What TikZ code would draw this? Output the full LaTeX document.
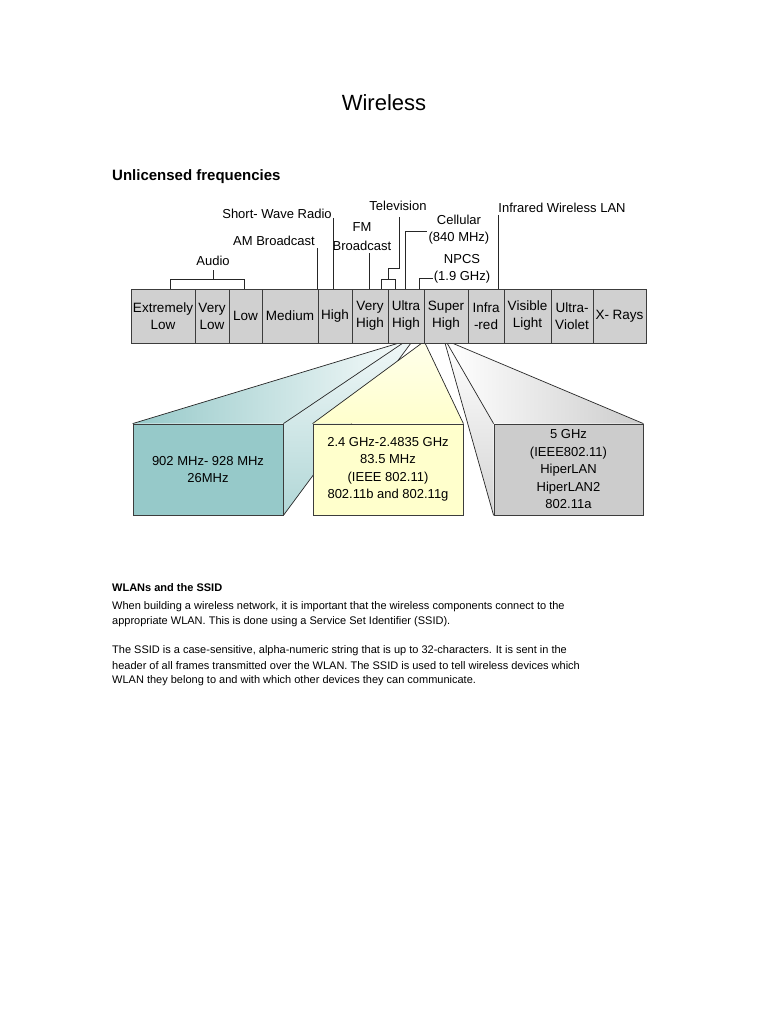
\documentclass[tikz,border=0pt]{standalone}
\usepackage{fontspec}
\setmainfont{Liberation Sans}
\usetikzlibrary{backgrounds}
\definecolor{ismteal}{RGB}{150,201,201}
\definecolor{ismyellow}{RGB}{255,255,204}
\definecolor{uniigray}{RGB}{204,204,204}
\definecolor{bandgray}{RGB}{208,208,208}
\definecolor{edgegray}{RGB}{60,60,60}
\tikzset{
  band/.style ={rectangle, draw=edgegray, fill=bandgray, line width=0.8pt,
                minimum height=54pt, inner sep=0pt, align=center,
                font=\fontsize{13.5}{17}\selectfont},
  tick/.style ={draw=black!85, line width=0.7pt},
  lbl/.style  ={inner sep=0pt, align=center, font=\fontsize{13}{17}\selectfont},
  face/.style ={rectangle, draw=edgegray, line width=0.8pt, minimum width=150pt,
                minimum height=91pt, inner sep=0pt, align=center,
                font=\fontsize{13}{17.5}\selectfont},
  funnel/.style={draw=black!85, line width=0.7pt},
  bodytxt/.style={anchor=west, inner sep=0pt, font=\fontsize{11}{13}\selectfont},
}

\begin{document}
\begin{tikzpicture}[x=1pt, y=-1pt]
    \useasboundingbox (0,0) rectangle (768,1024);
    % headings
    \node[font=\fontsize{22}{26}\selectfont] (title) at (384,103) {Wireless};
    \node[anchor=west, inner sep=0pt, font=\fontsize{15}{17}\selectfont\bfseries] (unlic) at (112,177) {Unlicensed frequencies};
    % spectrum bands
    \node[band, minimum width=64pt] (elf) at (163,316)   {Extremely\\Low};
    \node[band, minimum width=34pt] (vlf) at (212,316)   {Very\\Low};
    \node[band, minimum width=33pt] (lf)  at (245.5,316) {Low};
    \node[band, minimum width=56pt] (mf)  at (290,316)   {Medium};
    \node[band, minimum width=34pt] (hf)  at (335,316)   {High};
    \node[band, minimum width=36pt] (vhf) at (370,316)   {Very\\High};
    \node[band, minimum width=36pt] (uhf) at (406,316)   {Ultra\\High};
    \node[band, minimum width=44pt] (shf) at (446,316)   {Super\\High};
    \node[band, minimum width=36pt] (ir)  at (486,316)   {Infra\\-red};
    \node[band, minimum width=47pt] (vis) at (527.5,316) {Visible\\Light};
    \node[band, minimum width=42pt] (uv)  at (572,316)   {Ultra-\\Violet};
    \node[band, minimum width=53pt] (xr)  at (619.5,316) {X- Rays};
    % labels above the bands
    \node[lbl] (audio) at (213,261) {Audio};
    \node[lbl] (amb)   at (274,241) {AM Broadcast};
    \node[lbl] (swr)   at (277,214) {Short- Wave Radio};
    \node[lbl] (fmb)   at (362,237) {FM\\[2pt]Broadcast};
    \node[lbl] (tv)    at (398,206) {Television};
    \node[lbl] (cell)  at (459,230) {Cellular\\(840 MHz)};
    \node[lbl] (npcs)  at (462,269) {NPCS\\(1.9 GHz)};
    \node[lbl] (irlan) at (562,208) {Infrared Wireless LAN};
    \draw[tick] (170,289) -- (170,279) -- (244,279) -- (244,289);
    \draw[tick] (213,279) -- (audio.south |- 0,270);
    \draw[tick] (317,248) -- (317,289);
    \draw[tick] (333,218) -- (333,289);
    \draw[tick] (369,253) -- (369,289);
    \draw[tick] (381,289) -- (381,279) -- (395,279) -- (395,289);
    \draw[tick] (388,279) -- (388,268) -- (399,268) -- (399,217);
    \draw[tick] (405,289) -- (405,231) -- (427,231);
    \draw[tick] (419,289) -- (419,278) -- (433,278);
    \draw[tick] (498,215) -- (498,289);
    % band boxes
    \node[face, fill=ismteal] (ism900) at (208,469.5)
        {902 MHz- 928 MHz\\26MHz};
    \node[face, fill=ismyellow] (ism24) at (388,469.5)
        {2.4 GHz-2.4835 GHz\\83.5 MHz\\(IEEE 802.11)\\802.11b and 802.11g};
    \node[face, fill=uniigray, minimum width=149pt] (unii5) at (568.5,469.5)
        {5 GHz\\(IEEE802.11)\\HiperLAN\\HiperLAN2\\802.11a};
    \begin{scope}[on background layer]
      % teal funnel
      \path[left color=ismteal, right color=ismteal!10] (ism900.north west) -- (399,343) -- (403,343) -- (ism900.north east) -- cycle;
      \path[top color=ismteal!15, bottom color=ismteal!75] (ism900.north east) -- (403,343) -- (411,343) -- (ism900.south east) -- cycle;
      \draw[funnel] (ism900.north west) -- (399,343);
      \draw[funnel] (ism900.north east) -- (403,343);
      \draw[funnel] (ism900.south east) -- (411,343);
      % yellow funnel
      \path[top color=ismyellow!40, bottom color=ismyellow] (ism24.north west) -- (422,343) -- (425,343) -- (ism24.north east) -- cycle;
      \draw[funnel] (ism24.north west) -- (422,343);
      \draw[funnel] (ism24.north east) -- (425,343);
      % gray funnel
      \path[top color=white, bottom color=uniigray!85] (unii5.north west) -- (447,343) -- (445,343) -- (unii5.south west) -- cycle;
      \path[left color=white, right color=uniigray] (unii5.north west) -- (447,343) -- (452,343) -- (unii5.north east) -- cycle;
      \draw[funnel] (unii5.south west) -- (445,343);
      \draw[funnel] (unii5.north west) -- (447,343);
      \draw[funnel] (unii5.north east) -- (452,343);
    \end{scope}
    % text below
    \node[anchor=west, inner sep=0pt, font=\fontsize{11}{13}\selectfont\bfseries] (wlan) at (112,588) {WLANs and the SSID};
    \node[bodytxt] (p1) at (112,607) {When building a wireless network, it is important that the wireless components connect to the};
    \node[bodytxt] (p2) at (112,622) {appropriate WLAN. This is done using a Service Set Identifier (SSID).};
    \node[bodytxt] (p3) at (112,651) {The SSID is a case-sensitive, alpha-numeric string that is up to 32-characters. It is sent in the};
    \node[bodytxt] (p4) at (112,666) {header of all frames transmitted over the WLAN. The SSID is used to tell wireless devices which};
    \node[bodytxt] (p5) at (112,681) {WLAN they belong to and with which other devices they can communicate.};
\end{tikzpicture}
\end{document}
